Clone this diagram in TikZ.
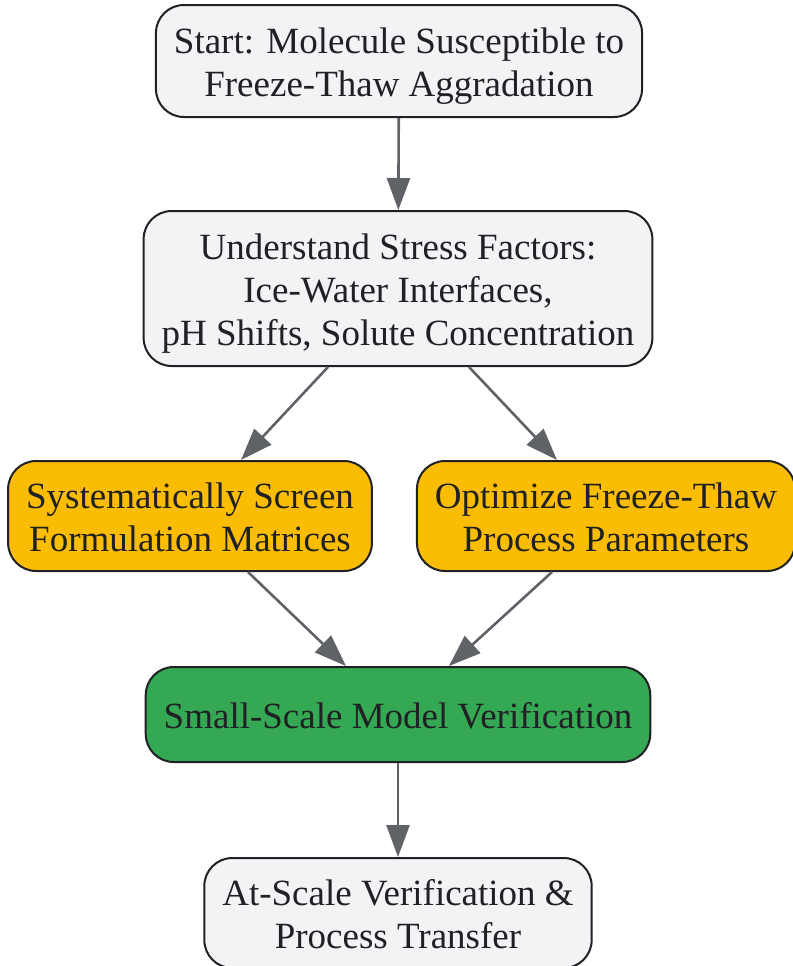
\documentclass[tikz,border=0pt]{standalone}
\usepackage{fontspec}
\setmainfont{Liberation Serif}
\usetikzlibrary{shapes.geometric, arrows.meta}
\definecolor{greybg}{HTML}{F1F3F4}
\definecolor{orangebg}{HTML}{FBBC04}
\definecolor{greenbg}{HTML}{34A853}
\definecolor{edgecol}{HTML}{202124}
\definecolor{arrowcol}{HTML}{5F6368}
\newcommand{\toprl}{\rule{0pt}{18pt}}
\newcommand{\botrl}{\rule[-4pt]{0pt}{4pt}}
\tikzstyle{blockg} = [rectangle, draw=edgecol, line width=1pt, rounded corners=14pt, align=center, inner xsep=9pt, minimum height=56pt, text=edgecol, fill=greybg]
\tikzstyle{blocko} = [rectangle, draw=edgecol, line width=1pt, rounded corners=14pt, align=center, inner xsep=9pt, minimum height=55pt, text=edgecol, fill=orangebg]
\tikzstyle{blockv} = [rectangle, draw=edgecol, line width=1pt, rounded corners=14pt, align=center, inner xsep=9pt, minimum height=47.5pt, text=edgecol, fill=greenbg]
\tikzstyle{line} = [draw=arrowcol, line width=1.3pt, -{Triangle[length=16pt, width=11.5pt]}]
\begin{document}
\begin{tikzpicture}[node distance=113.75pt, auto, font=\fontsize{18.5}{21.5}\selectfont]
\useasboundingbox (0,0) rectangle (396.5pt,-483pt);

\node [blockg] (S) at (199.5pt,-30.5pt) {\toprl Start: Molecule Susceptible to\\Freeze-Thaw Aggradation\botrl};
\node [blockg, below of=S, xshift=-0.5pt, minimum height=77.5pt] (U) {\toprl Understand Stress Factors:\\Ice-Water Interfaces,\\pH Shifts, Solute Concentration\botrl};
\node [blocko, below of=U, xshift=-104pt] (F) {\toprl Systematically Screen\\Formulation Matrices\botrl};
\node [blocko, below of=U, xshift=104pt] (P) {\toprl Optimize Freeze-Thaw\\Process Parameters\botrl};
\node [blockv, below of=U, yshift=-99.25pt] (V) {\toprl Small-Scale Model Verification\botrl};
\node [blockg, below of=V, yshift=14.5pt, minimum height=55pt] (T) {\toprl At-Scale Verification \&\\Process Transfer\botrl};

\path [line] (S) -- (U);
\path [line] ([xshift=-35pt]U.south) -- ([xshift=25.5pt]F.north);
\path [line] ([xshift=35.5pt]U.south) -- ([xshift=-24.5pt]P.north);
\path [line] ([xshift=29pt]F.south) -- ([xshift=-26pt]V.north);
\path [line] ([xshift=-27pt]P.south) -- ([xshift=25.5pt]V.north);
\path [line] (V) -- (T);

\end{tikzpicture}
\end{document}
